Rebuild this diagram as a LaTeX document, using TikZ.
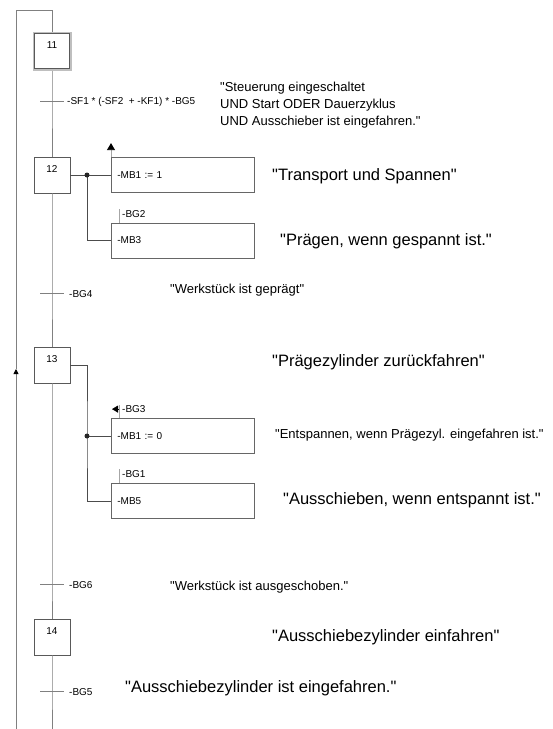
\documentclass[tikz,border=0pt]{standalone}
\usepackage{fontspec}
\setmainfont{Liberation Sans}[Ligatures=TeXOff]
\usetikzlibrary{arrows.meta,positioning}

\tikzset{
    chainline/.style={draw=black!50, line width=0.8pt},
    stepbox/.style={draw=black!65, fill=white, minimum size=36pt, inner sep=0pt, line width=0.8pt},
    stepnum/.style={anchor=north, inner sep=0pt, yshift=-8.5pt, font=\fontsize{10}{12}\selectfont},
    actbox/.style={draw=black!60, fill=white, anchor=west, minimum height=35pt, text width=131pt,
        inner xsep=6pt, align=left, font=\fontsize{10}{12}\selectfont, line width=0.8pt},
    actline/.style={draw=black!70, line width=0.8pt},
    sigline/.style={draw=black!35, line width=0.8pt},
    small/.style={inner sep=0pt, anchor=west, font=\fontsize{10}{12}\selectfont},
    remark/.style={inner sep=0pt, anchor=west, align=left, font=\fontsize{13}{17}\selectfont},
    bigremark/.style={inner sep=0pt, anchor=west, font=\fontsize{16.5}{20}\selectfont},
}

\begin{document}
\begin{tikzpicture}[x=1pt,y=-1pt]
        \useasboundingbox (0,0) rectangle (553,729);

        \coordinate (top) at (52,10);
        \coordinate (bottom) at (52,729);
        \coordinate (t1) at (52,101);
        \coordinate (t2) at (52,293);
        \coordinate (t3) at (52,584);
        \coordinate (t4) at (52,691);
        \coordinate (back0) at (16,729);
        \coordinate (back1) at (16,369);
        \coordinate (back2) at (16,10);

        \node[stepbox, draw=black!25, line width=2pt, minimum size=37pt,
              label={[stepnum, yshift=-1pt]north:11}] (s11) at (52,51) {};
        \draw[draw=black!65, line width=0.8pt] ([shift={(2pt,-2pt)}]s11.north west)
            rectangle ([shift={(-2pt,2pt)}]s11.south east);
        \node[stepbox, label={[stepnum]north:12}] (s12) at (52,175) {};
        \node[stepbox, label={[stepnum]north:13}] (s13) at (52,365) {};
        \node[stepbox, label={[stepnum]north:14}] (s14) at (52,637) {};

        \draw[chainline] (top) -- (s11) -- (t1) -- (s12) -- (t2) -- (s13) -- (t3) -- (s14) -- (t4) -- (bottom);
        \draw[chainline, -{Triangle[length=5pt,width=5pt,color=black]}] (back0) -- (back1);
        \draw[chainline] (back1) -- (back2) -- (top);

        \draw[chainline] ([xshift=-12pt]t1) -- ([xshift=12pt]t1);
        \draw[chainline] ([xshift=-12pt]t2) -- ([xshift=12pt]t2);
        \draw[chainline] ([xshift=-12pt]t3) -- ([xshift=12pt]t3);
        \draw[chainline] ([xshift=-12pt]t4) -- ([xshift=12pt]t4);
        \node[small] (c1) at (67,102) {-SF1 * (-SF2~ + -KF1) * -BG5};
        \node[small] (c2) at (69,294) {-BG4};
        \node[small] (c3) at (69,585) {-BG6};
        \node[small] (c4) at (69,692) {-BG5};

        \node[actbox] (a1) at (111,175) {-MB1 := 1};
        \node[actbox] (a2) at (111,240.5) {-MB3};
        \node[actbox] (a3) at (111,436) {-MB1 := 0};
        \node[actbox] (a4) at (111,501) {-MB5};

        \coordinate (j12) at (87,175);
        \draw[actline] (s12.east) -- (a1.west);
        \draw[actline] (j12) |- (a2.west);
        \fill[black!85] (j12) circle (2.5pt);
        \coordinate (j13) at (87,436);
        \draw[actline] (s13.east) -| (j13) |- (a4.west);
        \draw[actline] (j13) -- (a3.west);
        \fill[black!85] (j13) circle (2.5pt);

        \draw[sigline, -{Triangle[length=7pt,width=8pt,color=black]}] (a1.north west) -- ++(0,-14);
        \draw[sigline] ([xshift=8pt]a2.north west) -- ++(0,-14);
        \node[small] (g2) at ([shift={(11pt,9pt)}]a2.north west) {-BG2};
        \draw[sigline] ([xshift=8pt]a3.north west) -- ++(0,-13);
        \draw[black, -{Triangle[length=6pt,width=7pt]}] ([shift={(8pt,9pt)}]a3.north west) -- ++(-7,0);
        \node[small] (g3) at ([shift={(11pt,9pt)}]a3.north west) {-BG3};
        \draw[sigline] ([xshift=8pt]a4.north west) -- ++(0,-14);
        \node[small] (g1) at ([shift={(11pt,9pt)}]a4.north west) {-BG1};

        \node[remark] (r1) at (220,105) {"Steuerung eingeschaltet\\UND Start ODER Dauerzyklus\\UND Ausschieber ist eingefahren."};
        \node[bigremark] (r2) at (272,176) {"Transport und Spannen"};
        \node[bigremark] (r3) at (280,241) {"Prägen, wenn gespannt ist."};
        \node[remark] (r4) at (170,290) {"Werkstück ist geprägt"};
        \node[bigremark] (r5) at (272,362) {"Prägezylinder zurückfahren"};
        \node[remark] (r6) at (275,435) {"Entspannen, wenn Prägezyl. eingefahren ist."};
        \node[bigremark] (r7) at (283,500) {"Ausschieben, wenn entspannt ist."};
        \node[remark] (r8) at (170,587) {"Werkstück ist ausgeschoben."};
        \node[bigremark] (r9) at (272,637) {"Ausschiebezylinder einfahren"};
        \node[bigremark] (r10) at (125,688) {"Ausschiebezylinder ist eingefahren."};
    \end{tikzpicture}
\end{document}
